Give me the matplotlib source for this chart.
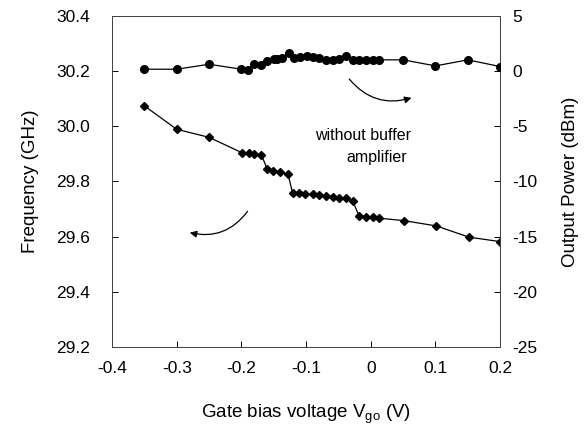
import matplotlib
matplotlib.use("Agg")
import matplotlib.pyplot as plt

plt.rcParams['font.family'] = ['Liberation Sans', 'DejaVu Sans']
plt.rcParams['axes.unicode_minus'] = False

# gate bias (V) for the output power curve
v_pow = [-0.35, -0.30, -0.25, -0.20, -0.19, -0.18, -0.17, -0.16, -0.15, -0.145,
         -0.137, -0.127, -0.119, -0.110, -0.099, -0.090, -0.080, -0.070, -0.059,
         -0.049, -0.039, -0.028, -0.018, -0.008, 0.003, 0.013, 0.05, 0.10, 0.15, 0.20]
# output power (dBm)
p_out = [0.17, 0.17, 0.62, 0.17, 0.10, 0.65, 0.56, 0.92, 1.08, 1.10,
         1.17, 1.68, 1.22, 1.26, 1.41, 1.26, 1.17, 1.02, 1.02, 1.10,
         1.41, 1.02, 1.02, 1.02, 1.02, 1.02, 1.02, 0.47, 1.02, 0.41]

# gate bias (V) for the frequency curve
v_freq = [-0.35, -0.30, -0.25, -0.199, -0.189, -0.180, -0.169, -0.160, -0.151,
          -0.140, -0.128, -0.121, -0.111, -0.101, -0.090, -0.080, -0.070, -0.059,
          -0.049, -0.039, -0.028, -0.018, -0.008, 0.003, 0.013, 0.051, 0.101,
          0.152, 0.20]
# frequency (GHz)
freq = [30.074, 29.989, 29.960, 29.904, 29.902, 29.899, 29.896, 29.844, 29.839,
        29.833, 29.827, 29.759, 29.757, 29.755, 29.754, 29.751, 29.749, 29.745,
        29.741, 29.739, 29.729, 29.675, 29.673, 29.670, 29.667, 29.658, 29.639,
        29.598, 29.582]

x_ticks = [-0.4, -0.3, -0.2, -0.1, 0, 0.1, 0.2]
x_labels = ['-0.4', '-0.3', '-0.2', '-0.1', '0', '0.1', '0.2']
f_ticks = [29.2, 29.4, 29.6, 29.8, 30.0, 30.2, 30.4]
p_ticks = [-25, -20, -15, -10, -5, 0, 5]

fig = plt.figure(figsize=(5.85, 4.30), dpi=100)
ax = fig.add_axes([0.1915, 0.193, 0.6635, 0.770])
ax2 = ax.twinx()

ax.plot(v_freq, freq, color='black', lw=0.9, marker='D', ms=4.2, zorder=3)
ax2.plot(v_pow, p_out, color='black', lw=0.9, marker='o', ms=5.5, zorder=3)

ax.set_xlim(-0.4, 0.2)
ax.set_ylim(29.2, 30.4)
ax2.set_ylim(-25, 5)

ax.set_xticks(x_ticks)
ax.set_xticklabels(x_labels)
ax.set_yticks(f_ticks)
ax.set_yticklabels(['%.1f' % t for t in f_ticks])
ax2.set_yticks(p_ticks)

for a in (ax, ax2):
    a.tick_params(direction='in', length=4, width=0.7, labelsize=12.5)
    for s in a.spines.values():
        s.set_linewidth(0.7)
        s.set_color('#444444')
ax.tick_params(axis='y', pad=16)
ax.tick_params(axis='x', pad=10)
ax2.tick_params(axis='y', pad=9)

ax.set_xlabel('Gate bias voltage V$_{\\mathregular{go}}$ (V)', fontsize=13.5, labelpad=19)
ax.set_ylabel('Frequency (GHz)', fontsize=13.5, labelpad=12)
ax2.set_ylabel('Output Power (dBm)', fontsize=13.5, labelpad=17)

ax.text(-0.012, 29.965, 'without buffer', ha='center', va='center', fontsize=11.5)
ax.text(0.009, 29.886, 'amplifier', ha='center', va='center', fontsize=11.5)

# curved arrows pointing to each axis
ax.annotate('', xy=(0.067, 30.106), xytext=(-0.036, 30.179),
            arrowprops=dict(arrowstyle='-|>', color='black', lw=0.9,
                            connectionstyle='arc3,rad=0.35', mutation_scale=10))
ax.annotate('', xy=(-0.284, 29.617), xytext=(-0.188, 29.70),
            arrowprops=dict(arrowstyle='-|>', color='black', lw=0.9,
                            connectionstyle='arc3,rad=-0.35', mutation_scale=10))

fig.savefig('out.png', dpi=100)
